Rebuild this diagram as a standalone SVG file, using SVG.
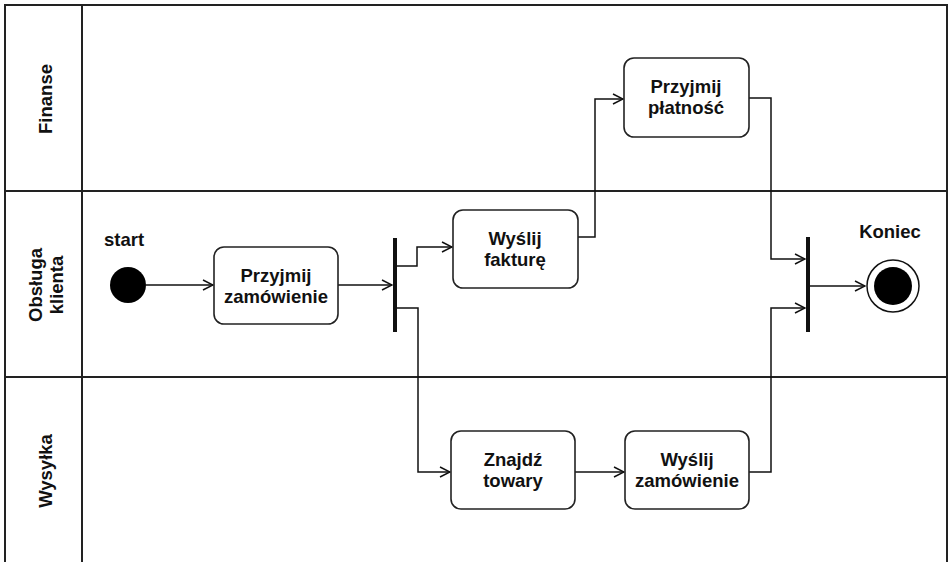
<svg xmlns="http://www.w3.org/2000/svg" width="951" height="562" viewBox="0 0 951 562">
<defs>
<style>
.lane{fill:none;stroke:#222;stroke-width:2}
.t{font-family:"Liberation Sans",Arial,sans-serif;font-weight:bold;font-size:18.5px;fill:#111;text-anchor:middle}
.box{fill:#fff;stroke:#222;stroke-width:1.6}
.c{fill:none;stroke:#111;stroke-width:1.5}
.bar{stroke:#111;stroke-width:4}
</style>
<marker id="a" viewBox="0 0 12 12" refX="11" refY="6" markerWidth="12" markerHeight="12" markerUnits="userSpaceOnUse" orient="auto">
<path d="M1,1 L11,6 L1,11" fill="none" stroke="#111" stroke-width="1.5"/>
</marker>
</defs>
<rect width="951" height="562" fill="#fff"/>
<g id="lanes">
<path class="lane" d="M5,565 V5 H947 V565"/>
<path class="lane" d="M82,5 V565"/>
<path class="lane" d="M5,191 H947"/>
<path class="lane" d="M5,377 H947"/>
<text class="t" transform="translate(52,99) rotate(-90)">Finanse</text>
<text class="t" transform="translate(42,285) rotate(-90)">Obsługa</text>
<text class="t" transform="translate(63,285) rotate(-90)">klienta</text>
<text class="t" transform="translate(52,471) rotate(-90)">Wysyłka</text>
</g>
<g id="connectors">
<path class="c" d="M146,285 H213" marker-end="url(#a)"/>
<path class="c" d="M338,285 H392" marker-end="url(#a)"/>
<path class="c" d="M397,266 H417 V247 H452" marker-end="url(#a)"/>
<path class="c" d="M397,308 H418 V472 H450" marker-end="url(#a)"/>
<path class="c" d="M575,472 H624" marker-end="url(#a)"/>
<path class="c" d="M749,472 H771 V308 H805" marker-end="url(#a)"/>
<path class="c" d="M578,237 H595 V99 H623" marker-end="url(#a)"/>
<path class="c" d="M749,98 H771 V259 H805" marker-end="url(#a)"/>
<path class="c" d="M810,286 H865" marker-end="url(#a)"/>
</g>
<g id="start">
<circle cx="128" cy="285" r="18" fill="#000"/>
<text class="t" x="124" y="246">start</text>
</g>
<g id="przyjmij-zamowienie">
<rect class="box" x="214" y="247" width="124" height="77" rx="10"/>
<text class="t" x="276" y="282">Przyjmij</text>
<text class="t" x="276" y="303">zamówienie</text>
</g>
<g id="fork">
<line class="bar" x1="395" y1="238" x2="395" y2="332"/>
</g>
<g id="wyslij-fakture">
<rect class="box" x="453" y="210" width="125" height="78" rx="10"/>
<text class="t" x="515" y="245">Wyślij</text>
<text class="t" x="515" y="266">fakturę</text>
</g>
<g id="przyjmij-platnosc">
<rect class="box" x="624" y="58" width="125" height="79" rx="10"/>
<text class="t" x="686" y="93">Przyjmij</text>
<text class="t" x="686" y="114">płatność</text>
</g>
<g id="znajdz-towary">
<rect class="box" x="451" y="431" width="124" height="78" rx="10"/>
<text class="t" x="513" y="466">Znajdź</text>
<text class="t" x="513" y="487">towary</text>
</g>
<g id="wyslij-zamowienie">
<rect class="box" x="625" y="431" width="124" height="78" rx="10"/>
<text class="t" x="687" y="466">Wyślij</text>
<text class="t" x="687" y="487">zamówienie</text>
</g>
<g id="join">
<line class="bar" x1="808" y1="237" x2="808" y2="332"/>
</g>
<g id="end">
<circle cx="893" cy="286" r="26" fill="#fff" stroke="#111" stroke-width="1.5"/>
<circle cx="893" cy="286" r="19" fill="#000"/>
<text class="t" x="890" y="238">Koniec</text>
</g>
</svg>
